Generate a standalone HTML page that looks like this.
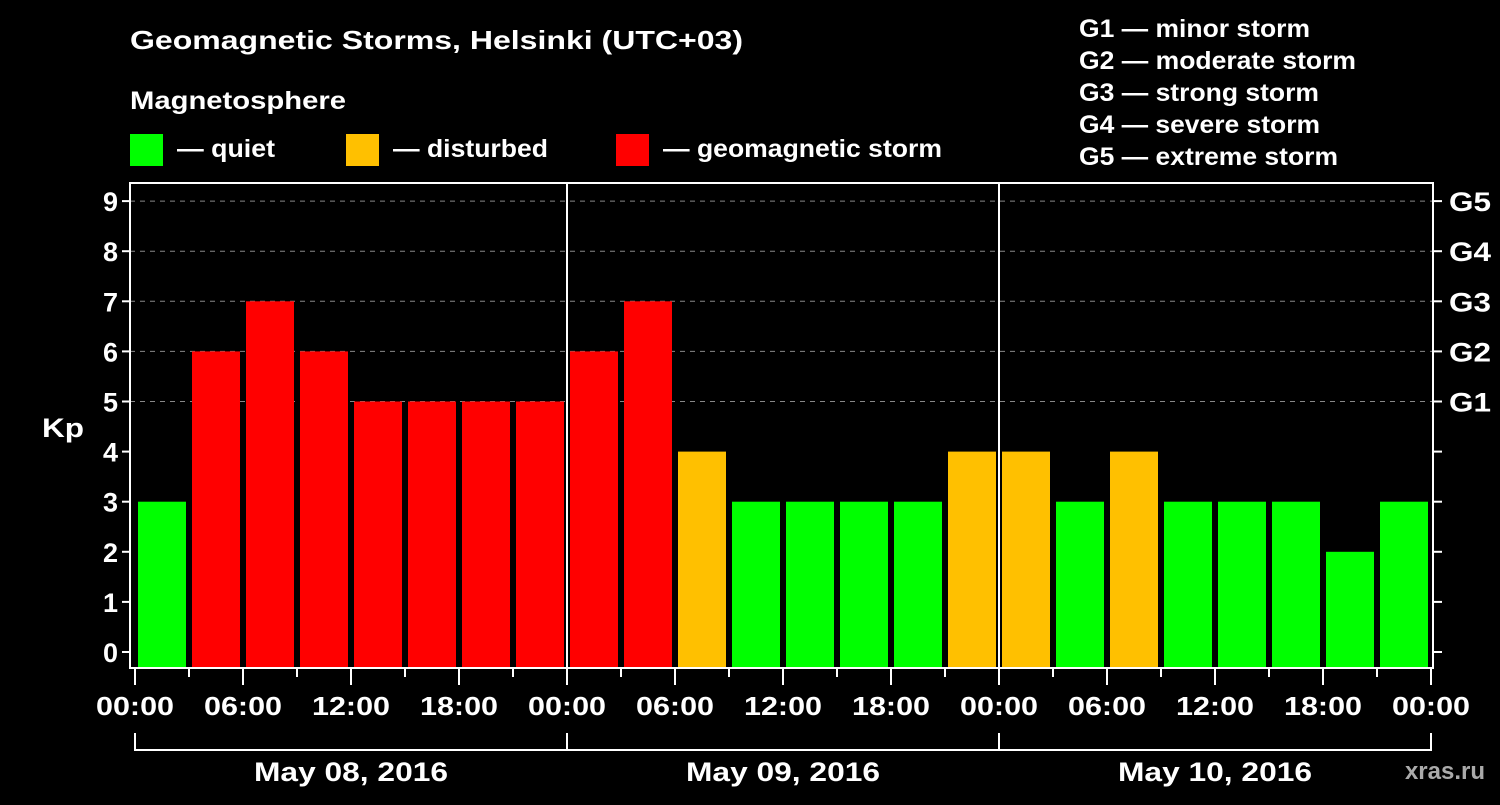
<!DOCTYPE html>
<html><head><meta charset="utf-8"><style>
html,body{margin:0;padding:0;background:#000;}
svg text{font-family:"Liberation Sans",Arial,sans-serif;font-weight:bold;fill:#fff;}
</style></head><body>
<svg width="1500" height="800" viewBox="0 0 1500 800">
<rect x="0" y="0" width="1500" height="800" fill="#000"/>
<text x="130" y="49" font-size="26" textLength="613" lengthAdjust="spacingAndGlyphs">Geomagnetic Storms, Helsinki (UTC+03)</text>
<text x="130" y="109" font-size="25" textLength="216" lengthAdjust="spacingAndGlyphs">Magnetosphere</text>
<g><rect x="130" y="134" width="33" height="32" fill="#00ff00"/><text x="177" y="157" font-size="25" textLength="98" lengthAdjust="spacingAndGlyphs">— quiet</text></g>
<g><rect x="346" y="134" width="33" height="32" fill="#ffc000"/><text x="393" y="157" font-size="25" textLength="155" lengthAdjust="spacingAndGlyphs">— disturbed</text></g>
<g><rect x="616" y="134" width="33" height="32" fill="#ff0000"/><text x="663" y="157" font-size="25" textLength="279" lengthAdjust="spacingAndGlyphs">— geomagnetic storm</text></g>
<g font-size="25">
<text x="1079" y="37" textLength="231" lengthAdjust="spacingAndGlyphs">G1 — minor storm</text>
<text x="1079" y="69" textLength="277" lengthAdjust="spacingAndGlyphs">G2 — moderate storm</text>
<text x="1079" y="101" textLength="240" lengthAdjust="spacingAndGlyphs">G3 — strong storm</text>
<text x="1079" y="133" textLength="241" lengthAdjust="spacingAndGlyphs">G4 — severe storm</text>
<text x="1079" y="165" textLength="259" lengthAdjust="spacingAndGlyphs">G5 — extreme storm</text>
</g>
<text x="42" y="437" font-size="27" textLength="42" lengthAdjust="spacingAndGlyphs">Kp</text>
<g id="grid"></g>
<g id="bars"></g>
<g id="axes"></g>
<text x="1485" y="779" font-size="24" text-anchor="end" style="fill:#aaaaaa">xras.ru</text>
</svg>
<script>
const kpValues = [3,6,7,6,5,5,5,5, 6,7,4,3,3,3,3,4, 4,3,4,3,3,3,2,3];
const dayLabels = ["May 08, 2016","May 09, 2016","May 10, 2016"];
const yTicks = [0,1,2,3,4,5,6,7,8,9];
const gLabels = ["G1","G2","G3","G4","G5"];
const xTickLabels = ["00:00","06:00","12:00","18:00"];

const NS="http://www.w3.org/2000/svg";
const pL=130,pR=1433,pT=183,pB=668,x0=135,dayW=432;
const yS=v=>652-v*50.1;
const xS=h=>x0+h*(dayW/24);
function mk(tag,attrs,parent){const e=document.createElementNS(NS,tag);for(const k in attrs)e.setAttribute(k,attrs[k]);parent.appendChild(e);return e;}
const gridG=document.getElementById('grid'),barsG=document.getElementById('bars'),axesG=document.getElementById('axes');

yTicks.forEach(v=>{
  if(v>=5){const l=mk('line',{x1:pL,x2:pR,y1:yS(v),y2:yS(v),stroke:'#888','stroke-width':1,'stroke-dasharray':'5,5'},gridG);
  
  }
  const t=mk('line',{x1:pL-8,x2:pL,y1:yS(v),y2:yS(v),stroke:'#fff','stroke-width':2},axesG);
  
  
  const tr=mk('line',{x1:pR,x2:pR+9,y1:yS(v),y2:yS(v),stroke:'#fff','stroke-width':2},axesG);
  
  
  const tx=mk('text',{x:pL-12,y:yS(v)+10,'font-size':27,'text-anchor':'end'},axesG);
  tx.textContent=v;
  
  
});
gLabels.forEach((g,i)=>{
  const tx=mk('text',{x:1449,y:yS(5+i)+10,'font-size':27,textLength:42,lengthAdjust:'spacingAndGlyphs'},axesG);
  tx.textContent=g;
  
  
});
kpValues.forEach((v,i)=>{
  const c=v>=5?'#ff0000':(v>=4?'#ffc000':'#00ff00');
  const r=mk('rect',{x:xS(i*3)+3,width:48,y:yS(v),height:pB-yS(v),fill:c},barsG);
  
  
});
const fr=mk('rect',{x:pL,y:pT,width:pR-pL,height:pB-pT,fill:'none',stroke:'#fff','stroke-width':2},axesG);


for(let d=1;d<dayLabels.length;d++){
  const l=mk('line',{x1:xS(d*24),x2:xS(d*24),y1:pT,y2:pB,stroke:'#fff','stroke-width':2},axesG);
  
  
}
for(let h=0;h<=dayLabels.length*24;h+=3){
  const major=h%6===0;
  const l=mk('line',{x1:xS(h),x2:xS(h),y1:pB,y2:pB+(major?17:9),stroke:'#fff','stroke-width':2},axesG);
  
  
  if(major){
    const tx=mk('text',{x:xS(h)-39,y:715,'font-size':26,textLength:78,lengthAdjust:'spacingAndGlyphs'},axesG);
    tx.textContent=xTickLabels[(h/6)%4];
    
    
  }
}
const br=mk('path',{d:'',fill:'none',stroke:'#fff','stroke-width':2},axesG);
let dd='M'+xS(0)+',750 L'+xS(dayLabels.length*24)+',750';
for(let i=0;i<=dayLabels.length;i++)dd+=' M'+xS(i*24)+',733 L'+xS(i*24)+',751';
br.setAttribute('d',dd);


dayLabels.forEach((lab,i)=>{
  const tx=mk('text',{x:xS(i*24+12)-97,y:781,'font-size':27,textLength:194,lengthAdjust:'spacingAndGlyphs'},axesG);
  tx.textContent=lab;
  
  
});
</script>
</body></html>
